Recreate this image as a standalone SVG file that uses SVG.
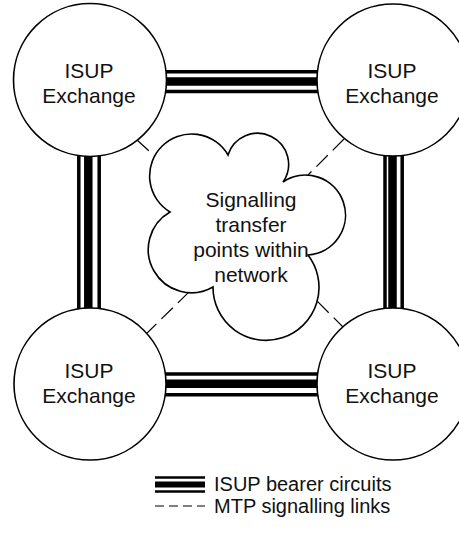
<svg xmlns="http://www.w3.org/2000/svg" width="459" height="540" viewBox="0 0 459 540">
<style>
.bg{fill:#fff}
.node{fill:#fff;stroke:#000;stroke-width:1.6}
.thin{stroke:#000;stroke-width:3.5;fill:none}
.thick{stroke:#000;stroke-width:8.5;fill:none}
.lthin{stroke:#000;stroke-width:2.5;fill:none}
.lthick{stroke:#000;stroke-width:6;fill:none}
.dash{stroke:#000;stroke-width:1.2;fill:none;stroke-dasharray:16 7}
.ldash{stroke:#000;stroke-width:1.2;fill:none;stroke-dasharray:9 5}
text{font-family:"Liberation Sans",Arial,sans-serif;font-size:21px;fill:#111}
.c{text-anchor:middle}
.leg{font-size:20px}
</style>
<rect class="bg" x="0" y="0" width="459" height="540"/>
<g id="connectors">
  <line class="thin" x1="90" y1="71.7" x2="393" y2="71.7"/>
  <line class="thick" x1="90" y1="81.5" x2="393" y2="81.5"/>
  <line class="thin" x1="90" y1="91.6" x2="393" y2="91.6"/>
  <line class="thin" x1="90" y1="373.9" x2="393" y2="373.9"/>
  <line class="thick" x1="90" y1="383.8" x2="393" y2="383.8"/>
  <line class="thin" x1="90" y1="394.7" x2="393" y2="394.7"/>
  <line class="thin" x1="78.8" y1="80" x2="78.8" y2="384"/>
  <line class="thick" x1="88.3" y1="80" x2="88.3" y2="384"/>
  <line class="thin" x1="99.2" y1="80" x2="99.2" y2="384"/>
  <line class="thin" x1="385" y1="80" x2="385" y2="384"/>
  <line class="thick" x1="392.5" y1="80" x2="392.5" y2="384"/>
  <line class="thin" x1="402.2" y1="80" x2="402.2" y2="384"/>
  <line class="dash" x1="137" y1="140" x2="172" y2="172"/>
  <line class="dash" x1="344" y1="139" x2="308" y2="175"/>
  <line class="dash" x1="145" y1="335" x2="190" y2="291"/>
  <line class="dash" x1="345" y1="329" x2="313" y2="297"/>
</g>
<g id="cloud">
  <path class="node" d="M170,212 A42,42 0 1 1 228,155 A31,31 0 1 1 283,182 A40,40 0 1 1 308,255 A53,53 0 1 1 213,287 A43,43 0 1 1 170,212 Z"/>
  <text class="c" x="251" y="207">Signalling</text>
  <text class="c" x="251" y="232">transfer</text>
  <text class="c" x="251" y="257">points within</text>
  <text class="c" x="251" y="282">network</text>
</g>
<g id="exchange-tl">
  <circle class="node" cx="90" cy="80" r="76.5"/>
  <text class="c" x="89" y="78">ISUP</text>
  <text class="c" x="89" y="103">Exchange</text>
</g>
<g id="exchange-tr">
  <circle class="node" cx="393" cy="80" r="76"/>
  <text class="c" x="392" y="78">ISUP</text>
  <text class="c" x="392" y="103">Exchange</text>
</g>
<g id="exchange-bl">
  <circle class="node" cx="90" cy="384" r="76"/>
  <text class="c" x="89" y="378">ISUP</text>
  <text class="c" x="89" y="403">Exchange</text>
</g>
<g id="exchange-br">
  <circle class="node" cx="393" cy="384" r="76"/>
  <text class="c" x="392" y="378">ISUP</text>
  <text class="c" x="392" y="403">Exchange</text>
</g>
<g id="legend">
  <line class="lthin" x1="155" y1="477.5" x2="205" y2="477.5"/>
  <line class="lthick" x1="155" y1="484.5" x2="205" y2="484.5"/>
  <line class="lthin" x1="155" y1="491.5" x2="205" y2="491.5"/>
  <line class="ldash" x1="155" y1="506" x2="205" y2="506"/>
  <text class="leg" x="214" y="491">ISUP bearer circuits</text>
  <text class="leg" x="214" y="513">MTP signalling links</text>
</g>
</svg>
